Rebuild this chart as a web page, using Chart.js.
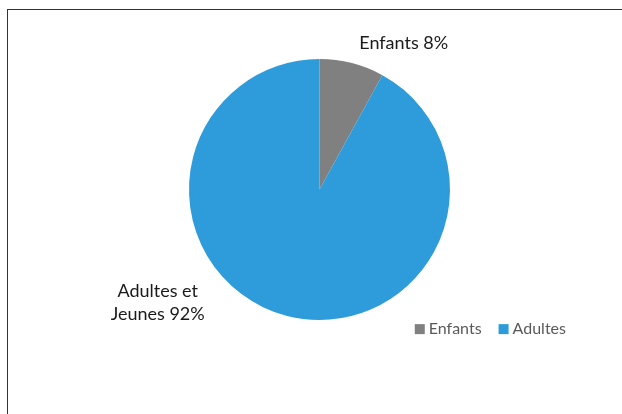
<!DOCTYPE html>
<html>
<head>
<meta charset="utf-8">
<script src="https://cdn.jsdelivr.net/npm/chart.js@4/dist/chart.umd.min.js"></script>
<style>
    html, body { margin: 0; padding: 0; background: #fff; overflow: hidden; }
    #wrap { position: relative; width: 622px; height: 414px; }
    #frame {
        position: absolute; left: 7px; top: 9px;
        width: 700px; height: 500px;
        border: 1.5px solid #333;
    }
    #chart { position: absolute; left: 0; top: 0; }
</style>
</head>
<body>
<div id="wrap">
    <div id="frame"></div>
    <canvas id="chart" width="622" height="414"></canvas>
</div>
<script>
// Chart data
const categories = ["Enfants", "Adultes"];
const sliceLabels = ["Enfants 8%", "Adultes et\nJeunes 92%"];
const shares = [8, 92];
const colors = ["#808080", "#2E9BDA"];

// Label anchors, in pie radii from the centre (x, y, text alignment)
const labelAnchors = [
    { dx: 0.305, dy: -1.125, align: "left" },
    { dx: -1.24, dy: 0.87, align: "center" }
];

// Draws the slice labels next to each arc
const sliceLabelPlugin = {
    id: "sliceLabels",
    afterDatasetsDraw(chart) {
        const ctx = chart.ctx;
        const meta = chart.getDatasetMeta(0);
        ctx.save();
        ctx.font = "18px Lato";
        ctx.fillStyle = "#1a1a1a";
        ctx.textBaseline = "middle";
        meta.data.forEach((arc, i) => {
            const a = labelAnchors[i];
            const x = arc.x + a.dx * arc.outerRadius;
            const y = arc.y + a.dy * arc.outerRadius;
            const lines = sliceLabels[i].split("\n");
            ctx.textAlign = a.align;
            lines.forEach((line, j) => {
                ctx.fillText(line, x, y + (j - (lines.length - 1) / 2) * 23);
            });
        });
        ctx.restore();
    }
};

// Draws the legend at the lower right of the pie
const sideLegendPlugin = {
    id: "sideLegend",
    afterDraw(chart) {
        const ctx = chart.ctx;
        const meta = chart.getDatasetMeta(0);
        const arc = meta.data[0];
        const items = Chart.overrides.pie.plugins.legend.labels.generateLabels(chart);
        ctx.save();
        ctx.font = "16px Lato";
        ctx.textBaseline = "middle";
        ctx.textAlign = "left";
        let x = arc.x + 0.73 * arc.outerRadius;
        const y = arc.y + 1.07 * arc.outerRadius;
        items.forEach(item => {
            ctx.fillStyle = item.fillStyle;
            ctx.fillRect(x, y - 5, 10, 10);
            ctx.fillStyle = "#595959";
            ctx.fillText(item.text, x + 14, y);
            x += 14 + ctx.measureText(item.text).width + 17;
        });
        ctx.restore();
    }
};

const ctx = document.getElementById("chart").getContext("2d");
new Chart(ctx, {
    type: "pie",
    data: {
        labels: categories,
        datasets: [{
            data: shares,
            backgroundColor: colors,
            borderWidth: 0
        }]
    },
    options: {
        responsive: false,
        animation: false,
        layout: {
            padding: { top: 59, bottom: 94, left: 17, right: 0 }
        },
        plugins: {
            legend: { display: false },
            tooltip: { enabled: false }
        }
    },
    plugins: [sliceLabelPlugin, sideLegendPlugin]
});
</script>
</body>
</html>
